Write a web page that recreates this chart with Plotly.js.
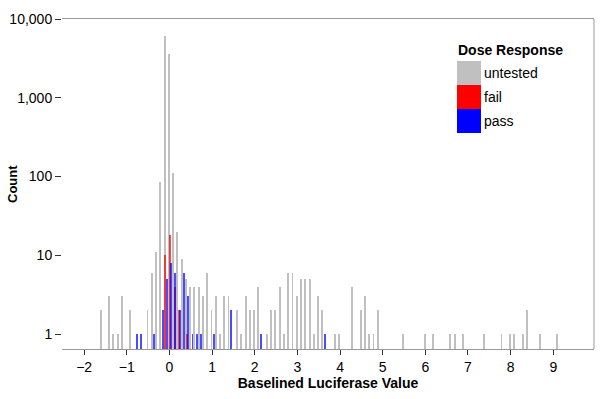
<!DOCTYPE html>
<html>
<head>
<meta charset="utf-8">
<script src="https://cdn.plot.ly/plotly-3.0.1.min.js"></script>
<style>html,body{margin:0;padding:0;background:#fff;}#chart{width:600px;height:399px;}</style>
</head>
<body>
<div id="chart"></div>
<script>
// ---- data ----
const untestedX = [-1.6,-1.4,-1.3,-1.2,-1.1,-0.9,-0.5,-0.4,-0.3,-0.2,-0.1,0.0,0.1,0.2,0.3,0.4,0.5,0.6,0.7,0.8,0.9,1.0,1.1,1.2,1.3,1.4,1.6,1.7,1.8,1.9,2.0,2.1,2.3,2.4,2.5,2.6,2.7,2.8,2.9,3.0,3.1,3.2,3.3,3.4,3.5,3.6,3.9,4.0,4.3,4.5,4.6,4.7,4.8,4.9,5.5,6.0,6.2,6.6,6.7,6.9,7.4,7.8,8.0,8.1,8.3,8.4,8.7,9.1];
const untestedY = [2,3,1,1,3,2,2,6,11,84,6000,3600,110,20,9,5,4,4,4,3,6,2,3,1,3,3,2,1,3,2,2,4,1,2,2,4,1,6,6,3,5,5,5,1,3,2,1,1,4,2,3,1,1,2,1,1,1,1,1,1,1,1,1,1,1,2,1,1];
const failX = [-0.10,0.01,0.13,0.23,0.42];
const failY = [10,18,4,2,1];
const passX = [-0.75,-0.65,-0.35,-0.15,-0.05,0.05,0.15,0.25,0.35,0.45,0.55,0.65,0.75,1.05,1.45,2.15,3.65];
const passY = [1,1,1,2,5,8,6,2,6,3,1,1,1,1,2,1,1];
const seriesNames = ["untested","fail","pass"];
const yTickVals = [1,10,100,1000,10000];
const yTickText = ["1","10","100","1,000","10,000"];
const xTickVals = [-2,-1,0,1,2,3,4,5,6,7,8,9];

// ---- styling ----
const FONT = "Liberation Sans, Arial, Helvetica, sans-serif";
const colors = {untested:"#c0c0c0", fail:"#ff0000", pass:"#0000ff"};
const BW = 0.045;
const L = 62, R = 594, T = 19, B = 349;
const px = x => (x - L) / (R - L);
const py = y => (B - y) / (B - T);

const traces = [
  {type:"bar", name:seriesNames[0], x:untestedX, y:untestedY, width:BW, offset:-0.015-BW/2,
   marker:{color:colors.untested, line:{width:0}}},
  {type:"bar", name:seriesNames[1], x:failX, y:failY, width:BW, offset:-BW/2,
   marker:{color:colors.fail, line:{width:0}}, opacity:0.7},
  {type:"bar", name:seriesNames[2], x:passX, y:passY, width:BW, offset:-0.01-BW/2,
   marker:{color:colors.pass, line:{width:0}}, opacity:0.7}
];

const shapes = [
  {type:"line", xref:"paper", yref:"paper", x0:1, x1:1, y0:0, y1:1, line:{color:"#999", width:1}},
  {type:"rect", xref:"paper", yref:"paper", x0:px(457), x1:px(481), y0:py(85), y1:py(61), fillcolor:colors.untested, line:{width:0}},
  {type:"rect", xref:"paper", yref:"paper", x0:px(457), x1:px(481), y0:py(109), y1:py(85), fillcolor:colors.fail, line:{width:0}},
  {type:"rect", xref:"paper", yref:"paper", x0:px(457), x1:px(481), y0:py(133), y1:py(109), fillcolor:colors.pass, line:{width:0}}
];

const annotations = [
  {xref:"paper", yref:"paper", x:px(456), y:py(50), xanchor:"left", yanchor:"middle", showarrow:false,
   text:"Dose Response", font:{family:FONT, size:14, color:"#000", weight:"bold"}},
  {xref:"paper", yref:"paper", x:px(482), y:py(73), xanchor:"left", yanchor:"middle", showarrow:false,
   text:seriesNames[0], font:{family:FONT, size:14, color:"#000"}},
  {xref:"paper", yref:"paper", x:px(482), y:py(97), xanchor:"left", yanchor:"middle", showarrow:false,
   text:seriesNames[1], font:{family:FONT, size:14, color:"#000"}},
  {xref:"paper", yref:"paper", x:px(482), y:py(121), xanchor:"left", yanchor:"middle", showarrow:false,
   text:seriesNames[2], font:{family:FONT, size:14, color:"#000"}},
  {xref:"paper", yref:"paper", x:px(12), y:py(184), xanchor:"center", yanchor:"middle", showarrow:false,
   textangle:-90, text:"Count", font:{family:FONT, size:13, color:"#000", weight:"bold"}}
];

const layout = {
  width:600, height:399,
  margin:{l:L, r:600-R, t:T, b:399-B, pad:0},
  paper_bgcolor:"#fff", plot_bgcolor:"#fff",
  barmode:"overlay", bargap:0,
  showlegend:false,
  font:{family:FONT, size:14, color:"#000"},
  xaxis:{
    range:[-2.52, 9.955], tickvals:xTickVals, ticks:"outside", ticklen:5, tickwidth:1, tickcolor:"#333",
    showline:true, linecolor:"#999", linewidth:1, mirror:true, showgrid:false, zeroline:false,
    tickfont:{family:FONT, size:14, color:"#000"},
    title:{text:"Baselined Luciferase Value", font:{family:FONT, size:14, color:"#000", weight:"bold"}, standoff:1}
  },
  yaxis:{
    type:"log", range:[-0.19, 4], tickvals:yTickVals, ticktext:yTickText,
    ticks:"outside", ticklen:6, tickwidth:1, tickcolor:"#333",
    showline:false, showgrid:false, zeroline:false,
    tickfont:{family:FONT, size:14, color:"#000"}
  },
  shapes:shapes, annotations:annotations
};

Plotly.newPlot("chart", traces, layout, {staticPlot:true, displayModeBar:false});
</script>
</body>
</html>
